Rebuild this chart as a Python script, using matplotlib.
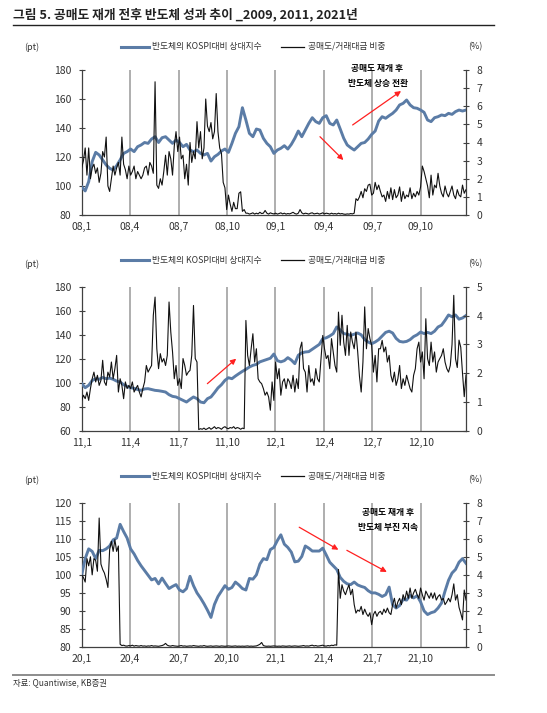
import numpy as np
import matplotlib
matplotlib.use("Agg")
import matplotlib.pyplot as plt
from matplotlib.lines import Line2D

plt.rcParams['font.family'] = ['Noto Sans CJK KR', 'DejaVu Sans']

# ---------------- data ----------------
title = "그림 5. 공매도 재개 전후 반도체 성과 추이 _2009, 2011, 2021년"
legend_blue = "반도체의 KOSPI대비 상대지수"
legend_black = "공매도/거래대금 비중"
source = "자료: Quantiwise, KB증권"

ticks_2009 = ['08,1', '08,4', '08,7', '08,10', '09,1', '09,4', '09,7', '09,10']
ticks_2011 = ['11,1', '11,4', '11,7', '11,10', '12,1', '12,4', '12,7', '12,10']
ticks_2021 = ['20,1', '20,4', '20,7', '20,10', '21,1', '21,4', '21,7', '21,10']

rel_2009 = [99.5, 96.6, 103, 116.8, 123.2, 121.4, 118, 114.5, 112.2, 111,
            114, 118, 122.5, 123.7, 125.5, 123.7, 127.1, 128.3, 130, 129.4,
            132.4, 134, 130, 133.3, 134, 131.7, 129.4, 131.7, 130, 127.1,
            128.7, 124.8, 123.7, 124.8, 122.5, 121.4, 122.5, 117.2, 120.2, 121.8,
            124.1, 125.5, 123.2, 129.4, 136.3, 140.9, 154.0, 145.5, 136.3, 134,
            139.3, 138.6, 132.9, 129.4, 127.1, 122.5, 124.8, 126, 127.8, 125.5,
            128.7, 132.9, 137.9, 134, 138.6, 143.2, 147.1, 144.4, 143.2, 147.1,
            148.5, 143.2, 142.1, 145.5, 139.3, 132.9, 128.3, 126.4, 124.8, 127.1,
            129.4, 130, 132.4, 135.6, 137.9, 144.8, 147.8, 146.7, 148.5, 150.1,
            152.4, 155.9, 157, 159.3, 155.9, 154, 153.6, 152.4, 150.8, 145.5,
            144.4, 147.1, 147.8, 149, 148.5, 150.1, 149.4, 151.3, 152.4, 151.7,
            152.4]

short_2009 = [2.6, 3.0, 3.7, 2.2, 3.7, 2.0, 2.6, 2.8, 2.3, 2.6,
              1.8, 2.3, 3.5, 3.2, 4.3, 1.6, 1.3, 2.0, 2.7, 2.2,
              2.6, 2.9, 2.2, 4.3, 2.8, 2.5, 2.0, 2.7, 2.2, 2.4,
              2.7, 2.0, 2.4, 2.2, 2.0, 2.2, 2.6, 2.7, 2.2, 2.9,
              2.7, 2.3, 7.35, 1.65, 1.47, 2.0, 1.65, 2.4, 3.3, 2.2,
              3.5, 3.1, 2.2, 3.8, 4.6, 3.5, 4.3, 3.1, 3.3, 2.0,
              2.8, 1.65, 4.0, 2.9, 3.5, 3.1, 5.15, 3.7, 4.6, 3.1,
              3.7, 6.4, 4.9, 4.6, 5.1, 4.2, 4.6, 6.7, 4.6, 3.7,
              3.4, 1.8, 1.5, 0.3, 1.1, 0.6, 0.2, 0.7, 0.35, 0.35,
              1.2, 1.28, 0.2, 0.3, 0.1,
              0.1, 0.05, 0.08, 0.12, 0.05, 0.1, 0.06, 0.15, 0.08, 0.1,
              0.25, 0.1, 0.05, 0.12, 0.08, 0.06, 0.1, 0.05, 0.08, 0.12,
              0.06, 0.1, 0.05, 0.08, 0.06, 0.1, 0.15, 0.08, 0.05, 0.1,
              0.3, 0.12, 0.06, 0.1, 0.08, 0.05, 0.1, 0.12, 0.06, 0.08,
              0.1, 0.05, 0.08, 0.12, 0.06, 0.1, 0.08, 0.05, 0.1, 0.06,
              0.08, 0.05, 0.1, 0.06, 0.08, 0.05, 0.04, 0.06, 0.05, 0.08,
              0.06, 0.1,
              0.9, 0.8, 1.0, 1.3, 0.95, 1.45, 1.3, 1.65, 1.7, 1.1,
              1.2, 1.8, 1.4, 1.65, 1.3, 1.0, 1.1, 0.75, 1.3, 0.9,
              1.5, 0.85, 1.4, 0.95, 1.1, 1.55, 0.75, 1.3, 0.9, 1.1,
              1.0, 1.5, 0.9, 1.2, 1.0, 1.3, 1.1, 1.55, 2.7, 2.4,
              2.0, 1.6, 0.95, 2.2, 1.1, 1.65, 1.5, 2.3, 1.6, 1.2,
              1.0, 1.6, 1.2, 1.0, 1.3, 1.6, 1.1, 0.9, 1.4, 1.1,
              1.0, 1.65, 1.2, 1.4]

rel_2011 = [99.5, 96, 98, 102, 103.5, 103, 104.5, 103.5, 104, 103,
            101.5, 100.7, 98.5, 97, 96, 95.5, 94.5, 93.8, 95, 95.2,
            94.5, 93.8, 93.5, 93, 92.4, 90.2, 88.8, 88.3, 86.9, 85.5,
            84.1, 86.3, 88.3, 86.9, 84.1, 83.5, 86.9, 88.3, 91.9, 95.8,
            98.5, 102.1, 104.3, 103.5, 105.7, 107.7, 109.6, 111.3, 113.2, 114.6,
            115.4, 117.5, 118.5, 119.5, 120.5, 124, 118.5, 117.5, 118.5, 121,
            119, 116, 123, 125, 125.7, 126, 128, 130, 132, 136.8,
            137.5, 139, 141, 146.5, 144, 141, 140.5, 139.5, 140.5, 141.5,
            140, 136, 134, 132.6, 134, 136, 139, 142, 143, 141.5,
            137, 134.5, 134, 134.5, 136, 138.5, 140, 142.3, 141, 142,
            141, 143, 146.5, 148, 152, 156.5, 155, 156.5, 153, 154,
            156]

short_2011 = [1.06, 1.24, 1.12, 1.35, 1.06, 1.47, 1.81, 2.04, 1.70, 1.93,
              1.58, 1.75, 2.45, 1.70, 1.58, 2.04, 1.87, 2.39, 1.81, 2.16,
              2.62, 1.35, 1.81, 1.58, 1.12, 1.70, 1.47, 1.58, 1.47, 1.70,
              1.35, 1.47, 1.58, 1.35, 1.18, 1.47, 1.70, 2.27, 2.04, 2.16,
              2.27, 4.01, 4.64, 2.85, 2.16, 2.68, 2.39, 2.51, 2.27, 2.62,
              4.47, 3.43, 2.74, 1.81, 2.27, 1.58, 1.81, 1.47, 2.51, 2.27,
              1.93, 2.04, 2.10, 2.62, 4.35, 2.51, 2.39,
              0.05, 0.08, 0.06, 0.1, 0.05, 0.08, 0.12, 0.06, 0.1, 0.15,
              0.08, 0.12, 0.1, 0.06, 0.12, 0.15, 0.1, 0.08, 0.12, 0.1,
              0.15, 0.08, 0.12, 0.1, 0.06, 0.1, 0.08,
              3.83, 2.62, 2.27, 2.85, 3.37, 2.39, 2.85, 1.81, 1.70,
              1.64, 1.47, 1.24, 1.35, 1.18, 0.72, 1.70, 1.06, 2.39, 1.81,
              2.16, 1.24, 1.70, 1.81, 1.47, 1.81, 1.70, 1.47, 1.93, 1.35,
              1.81, 1.47, 2.85, 3.08, 2.16, 2.04, 1.35, 2.27, 1.70, 1.81,
              1.58, 2.16, 1.81, 1.70, 2.51, 3.31, 2.85, 2.51, 2.62, 2.16,
              3.20, 2.74, 2.27, 2.04, 4.12, 2.97, 4.01, 3.08, 2.62, 3.66,
              2.62, 3.43, 3.08, 2.85, 3.43, 2.74, 1.90, 1.35, 2.39, 4.30,
              2.85, 3.55, 3.20, 2.97, 2.04, 2.62, 1.70, 2.85, 2.85, 3.14,
              2.74, 2.91, 2.39, 2.62, 1.93, 1.70, 2.04, 1.58, 1.81, 2.27,
              1.47, 1.81, 1.58, 1.93, 1.70, 1.47, 1.35, 1.93, 2.16, 2.85,
              3.08, 2.39, 2.74, 1.81, 3.89, 2.51, 2.27, 3.08, 2.39, 2.74,
              2.04, 2.39, 2.51, 2.62, 2.85, 2.39, 2.16, 2.04, 2.27,
              3.0, 4.7, 2.5, 2.2, 3.15, 2.9, 2.0, 1.19, 1.94]

rel_2021 = [100.0, 104.5, 107.2, 106.5, 104.5, 106.8, 106.7, 107.2, 108, 109.7,
            110.2, 114.0, 112.0, 110.2, 107.2, 105.8, 104.0, 102.5, 101.2, 99.9,
            98.6, 99.0, 97.5, 99.1, 97.6, 96.2, 96.8, 97.3, 95.8, 95.3,
            96.2, 99.6, 97.0, 95.0, 93.6, 92.0, 90.2, 88.2, 91.8, 94.0,
            95.5, 97.0, 96.0, 96.5, 98.0, 97.2, 96.2, 95.8, 99.0, 98.8,
            100.0, 103.0, 104.5, 104.2, 107.0, 107.6, 109.5, 111.1, 108.5, 107.6,
            106.3, 103.6, 103.8, 105.1, 108.0, 107.4, 106.6, 106.6, 106.6, 107.4,
            105.5, 103.5, 102.5, 101.5, 99.3, 98.2, 97.5, 97.3, 98.0, 97.2,
            96.8, 96.5, 95.6, 95.0, 95.0, 94.6, 94.0, 94.5, 96.6, 91.7,
            90.8, 91.5, 93.2, 93.0, 94.3, 93.6, 94.2, 92.5, 90.0, 89.0,
            89.5, 89.8, 90.8, 92.2, 95.5, 98.5, 100.5, 101.5, 103.5, 104.5,
            103.2]

short_2021 = [4.0, 3.85, 3.6, 4.9, 4.5, 5.0, 4.0, 4.9, 4.8, 4.2,
              7.15, 4.6, 4.3, 4.1, 3.75, 3.3, 5.4, 5.86, 5.3, 5.95,
              5.3, 5.6,
              0.15, 0.08, 0.1, 0.06, 0.05, 0.08, 0.06, 0.1, 0.05, 0.08,
              0.06, 0.05, 0.08, 0.05, 0.06, 0.04, 0.06, 0.05, 0.08, 0.05,
              0.06, 0.05, 0.04, 0.06, 0.08, 0.12, 0.2, 0.1, 0.06, 0.05,
              0.08, 0.06, 0.05, 0.04, 0.06, 0.08, 0.05, 0.06, 0.04, 0.05,
              0.06, 0.05, 0.08, 0.06, 0.05, 0.04, 0.06, 0.05, 0.08, 0.05,
              0.04, 0.05, 0.06, 0.04, 0.05, 0.06, 0.05, 0.04, 0.06, 0.05,
              0.04, 0.05, 0.06, 0.05, 0.04, 0.05, 0.06, 0.04, 0.05, 0.04,
              0.05, 0.04, 0.05, 0.06, 0.04, 0.05, 0.04, 0.05, 0.06, 0.1,
              0.15, 0.25, 0.08, 0.05, 0.04, 0.05, 0.04, 0.05, 0.06, 0.05,
              0.04, 0.05, 0.04, 0.06, 0.05, 0.04, 0.05, 0.06, 0.04, 0.05,
              0.06, 0.05, 0.04, 0.05, 0.06, 0.08, 0.05, 0.06, 0.05, 0.08,
              0.1, 0.06, 0.08, 0.05, 0.06, 0.08, 0.1, 0.06, 0.05, 0.08,
              0.06, 0.1, 0.08, 0.12, 0.1,
              4.3, 2.7, 3.45, 3.1, 2.9, 3.2, 3.45, 2.9, 3.2, 2.35,
              1.88, 2.05, 1.98, 2.25, 1.8, 2.1, 1.85, 1.7, 1.9, 1.24,
              1.8, 1.98, 1.7, 1.9, 1.98, 1.8, 2.1, 1.9, 2.16, 1.9,
              1.8, 2.35, 2.7, 2.16, 2.5, 2.7, 2.35, 2.9, 2.6, 3.1,
              2.7, 3.27, 2.7, 3.0, 3.2, 2.9, 2.7, 3.27, 2.9, 2.6,
              3.1, 2.9, 2.7, 3.0, 2.7, 3.0, 2.6, 2.8, 2.9, 2.6,
              2.7, 2.35, 2.5, 2.7, 2.5, 2.9, 3.5, 2.6, 2.9, 2.2,
              1.87, 1.5, 3.16, 2.6]

# ---------------- layout ----------------
W, H = 547, 713
fig = plt.figure(figsize=(W / 100, H / 100), dpi=100)

BLUE = '#5b7ca6'
GRID = '#a8a8a8'
SPINE = '#404040'
TXT = '#333333'
L_PX, R_PX = 81.7, 466.0
XMAX = 23.8

panels = [
    dict(rel=rel_2009, short=short_2009, ticks=ticks_2009,
         ylim=(80, 180), yticks=np.arange(80, 181, 20), y2max=8,
         top=70, bottom=215, leg_y=46.5, unit_y=47),
    dict(rel=rel_2011, short=short_2011, ticks=ticks_2011,
         ylim=(60, 180), yticks=np.arange(60, 181, 20), y2max=5,
         top=286.7, bottom=431, leg_y=260, unit_y=264),
    dict(rel=rel_2021, short=short_2021, ticks=ticks_2021,
         ylim=(80, 120), yticks=np.arange(80, 121, 5), y2max=8,
         top=502.7, bottom=647, leg_y=476, unit_y=480),
]


def fx(x):
    return x / W


def fy(y):
    return 1 - y / H


axes = []
for p in panels:
    ax = fig.add_axes([fx(L_PX), fy(p['bottom']), (R_PX - L_PX) / W,
                       (p['bottom'] - p['top']) / H])
    ax2 = ax.twinx()
    xb = np.linspace(0, XMAX, len(p['rel']))
    xk = np.linspace(0, XMAX, len(p['short']))
    xt = np.arange(0, 24, 3)
    for xv in xt[1:]:
        ax.axvline(xv, color=GRID, lw=1.3, zorder=0)
    ax.plot(xb, p['rel'], color=BLUE, lw=2.1, zorder=3, solid_joinstyle='round')
    ax2.plot(xk, p['short'], color='#111111', lw=0.8, zorder=4)
    ax.set_xlim(0, XMAX)
    ax.set_ylim(*p['ylim'])
    ax2.set_ylim(0, p['y2max'])
    ax.set_yticks(p['yticks'])
    ax2.set_yticks(np.arange(0, p['y2max'] + 1, 1))
    ax.set_xticks(xt)
    ax.set_xticklabels(p['ticks'])
    for a in (ax, ax2):
        a.spines['top'].set_visible(False)
        for s in ('left', 'right', 'bottom'):
            a.spines[s].set_color(SPINE)
            a.spines[s].set_linewidth(0.9)
    ax.spines['right'].set_visible(False)
    ax2.spines['left'].set_visible(False)
    ax2.spines['bottom'].set_visible(False)
    ax.tick_params(axis='y', direction='inout', length=5, width=0.8,
                   color=SPINE, labelsize=7.5, labelcolor=TXT, pad=5)
    ax2.tick_params(axis='y', direction='inout', length=5, width=0.8,
                    color=SPINE, labelsize=7.5, labelcolor=TXT, pad=5)
    ax.tick_params(axis='x', length=0, labelsize=7.5, labelcolor=TXT, pad=5)

    # legend and units
    yl = fy(p['leg_y'])
    fig.add_artist(Line2D([fx(120.8), fx(148.7)], [yl, yl], color=BLUE,
                          lw=2.2, transform=fig.transFigure))
    fig.text(fx(151.5), yl, legend_blue, fontsize=6.3, color=TXT,
             ha='left', va='center')
    fig.add_artist(Line2D([fx(281.2), fx(303.8)], [yl, yl], color='#111111',
                          lw=0.9, transform=fig.transFigure))
    fig.text(fx(307.5), yl, legend_black, fontsize=6.3, color=TXT,
             ha='left', va='center')
    fig.text(fx(31.8), fy(p['unit_y']), '(pt)', fontsize=6.5, color=TXT,
             ha='center', va='center')
    fig.text(fx(475), fy(p['unit_y']), '(%)', fontsize=6.5, color=TXT,
             ha='center', va='center')
    axes.append(ax)

RED = '#ff2020'
arrow_kw = dict(arrowstyle='-|>', color=RED, lw=0.9, mutation_scale=8,
                shrinkA=0, shrinkB=0)

# panel 1 annotations
a1 = axes[0]
a1.text(0.768, 1.007, '공매도 재개 후', transform=a1.transAxes, fontsize=6.3,
        fontweight='bold', ha='center', va='center', zorder=6)
a1.text(0.770, 0.908, '반도체 상승 전환', transform=a1.transAxes, fontsize=6.3,
        fontweight='bold', ha='center', va='center', zorder=6)
a1.annotate('', xy=(0.831, 0.855), xytext=(0.705, 0.621), xycoords='axes fraction',
            arrowprops=arrow_kw, zorder=6)
a1.annotate('', xy=(0.681, 0.379), xytext=(0.620, 0.540), xycoords='axes fraction',
            arrowprops=arrow_kw, zorder=6)

# panel 2 annotation
a2 = axes[1]
a2.annotate('', xy=(0.402, 0.501), xytext=(0.327, 0.328), xycoords='axes fraction',
            arrowprops=arrow_kw, zorder=6)

# panel 3 annotations
a3 = axes[2]
a3.text(0.798, 0.929, '공매도 재개 후', transform=a3.transAxes, fontsize=6.3,
        fontweight='bold', ha='center', va='center', zorder=6)
a3.text(0.798, 0.825, '반도체 부진 지속', transform=a3.transAxes, fontsize=6.3,
        fontweight='bold', ha='center', va='center', zorder=6)
a3.annotate('', xy=(0.668, 0.674), xytext=(0.566, 0.830), xycoords='axes fraction',
            arrowprops=arrow_kw, zorder=6)
a3.annotate('', xy=(0.794, 0.520), xytext=(0.690, 0.670), xycoords='axes fraction',
            arrowprops=arrow_kw, zorder=6)

# title, rules, source
fig.text(fx(12.7), fy(15), title, fontsize=9.2, fontweight='bold',
         color='#222222', ha='left', va='center')
fig.add_artist(Line2D([fx(12.7), fx(494)], [fy(25), fy(25)], color='#222222',
                      lw=1.0, transform=fig.transFigure))
fig.add_artist(Line2D([fx(12.7), fx(494)], [fy(675), fy(675)], color='#8c8c8c',
                      lw=1.4, transform=fig.transFigure))
fig.text(fx(12.7), fy(682.5), source, fontsize=6.0, color=TXT,
         ha='left', va='center')

fig.savefig('out.png', dpi=100)
